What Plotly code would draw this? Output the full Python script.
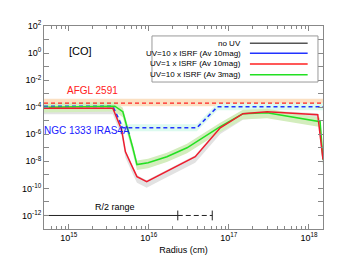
import numpy as np
import plotly.graph_objects as go

# ---- data ----
radius_red = [4.9e14, 3.55e15, 4.57e15, 5.1e15, 6.2e15, 7.1e15, 9.4e15, 1.38e16,
              2.14e16, 3.8e16, 7.8e16, 1.5e17, 3.0e17, 1.29e18, 1.5e18]
abund_red = [8.5e-5, 8.5e-5, 2.2e-6, 5.1e-8, 4.1e-9, 7.4e-10, 3.2e-10, 1.05e-9,
             4.1e-9, 2.2e-8, 3.0e-6, 3.3e-5, 4.6e-5, 2.8e-5, 1.35e-8]

radius_green = [4.9e14, 3.76e15, 4.73e15, 5.5e15, 6.3e15, 7.1e15, 9.8e15, 1.68e16,
                3.0e16, 7.8e16, 1.5e17, 3.0e17, 1.38e18, 1.5e18]
abund_green = [1.0e-4, 1.2e-4, 4.6e-5, 2.2e-6, 1.0e-7, 5.8e-9, 7.9e-9, 2.2e-8,
               1.0e-7, 3.6e-6, 3.3e-5, 3.9e-5, 8.5e-6, 1.35e-8]

radius_ngc = [4.9e14, 3.55e15, 4.73e15, 3.98e16, 7.2e16, 1.5e18]
abund_ngc = [1.15e-4, 1.15e-4, 3.0e-6, 3.0e-6, 1.07e-4, 1.07e-4]

radius_afgl = [4.9e14, 1.5e18]
abund_afgl = [2.0e-4, 2.0e-4]
afgl_hi = [4.2e-4, 4.2e-4]
afgl_lo = [1.2e-4, 1.2e-4]

r2_solid_x = [4.9e14, 2.3e16]
r2_dash_x = [2.3e16, 6.2e16]
r2_level = 1e-12

x_ticks = [1e15, 1e16, 1e17, 1e18]
x_ticktext = ["10<sup>15</sup>", "10<sup>16</sup>", "10<sup>17</sup>", "10<sup>18</sup>"]
y_exps = [2, 0, -2, -4, -6, -8, -10, -12]

legend_labels = ["no UV", "UV=10 x ISRF (Av 10mag)", "UV=1 x ISRF (Av 10mag)", "UV=10 x ISRF (Av 3mag)"]
legend_colors = ["#555555", "#2233ff", "#ff2020", "#22e022"]

FONT = "Liberation Sans, Arial, Helvetica, sans-serif"

fig = go.Figure()

def band(x, lo, hi, color):
    fig.add_trace(go.Scatter(x=list(x) + list(x)[::-1], y=list(hi) + list(lo)[::-1],
                             fill="toself", fillcolor=color, line=dict(width=0),
                             mode="lines", hoverinfo="skip", showlegend=False))

# bands
band(radius_afgl, afgl_lo, afgl_hi, "#fbe0c2")
band(radius_ngc, np.array(abund_ngc) / 1.8, np.array(abund_ngc) * 1.8, "#dcfaef")
band(radius_red, np.array(abund_red) * 10**-0.45, np.array(abund_red) * 10**0.1, "#e2e2e2")
band(radius_green, np.array(abund_green) * 10**-0.4, np.array(abund_green) * 10**0.3, "#d3edbd")

# lines
fig.add_trace(go.Scatter(x=radius_ngc, y=abund_ngc, mode="lines",
                         line=dict(color="#2233ff", width=1.6, dash="4px,3px"), showlegend=False))
fig.add_trace(go.Scatter(x=radius_afgl, y=abund_afgl, mode="lines",
                         line=dict(color="#ff2020", width=1.4, dash="4px,3px"), showlegend=False))
fig.add_trace(go.Scatter(x=radius_green, y=abund_green, mode="lines",
                         line=dict(color="#22e022", width=1.5), showlegend=False))
fig.add_trace(go.Scatter(x=radius_red, y=abund_red, mode="lines",
                         line=dict(color="#ee1c2e", width=1.5), showlegend=False))

# R/2 range
fig.add_trace(go.Scatter(x=r2_solid_x, y=[r2_level] * 2, mode="lines",
                         line=dict(color="#222222", width=1), showlegend=False))
fig.add_trace(go.Scatter(x=r2_dash_x, y=[r2_level] * 2, mode="lines+markers",
                         line=dict(color="#222222", width=1, dash="5px,3px"),
                         marker=dict(symbol="line-ns", size=7, line=dict(color="#222222", width=1)),
                         showlegend=False))

# minor ticks
x_minor = [m * 10**e for e in range(14, 19) for m in range(2, 10)]
x_minor = [v for v in x_minor if 4.9e14 <= v <= 1.5e18]
y_minor = [10.0**e for e in range(-13, 3) if e % 2 != 0]

axcol = "#888888"
fig.update_xaxes(type="log", range=[np.log10(4.9e14), np.log10(1.5e18)], automargin=False,
                 tickvals=x_ticks, ticktext=x_ticktext, ticks="inside", ticklen=5,
                 tickcolor=axcol, showline=True, linecolor=axcol, linewidth=1, mirror="ticks",
                 showgrid=False, zeroline=False,
                 minor=dict(tickvals=x_minor, ticks="inside", ticklen=3, tickcolor=axcol, showgrid=False),
                 tickfont=dict(size=9, color="black", family=FONT),
                 title=dict(text="Radius (cm)", font=dict(size=9, color="black", family=FONT), standoff=4))
fig.update_yaxes(type="log", range=[-13, 2], automargin=False,
                 tickvals=[10.0**e for e in y_exps],
                 ticktext=["10<sup>%d</sup>" % e for e in y_exps],
                 ticks="inside", ticklen=5, tickcolor=axcol, showline=True, linecolor=axcol,
                 linewidth=1, mirror="ticks", showgrid=False, zeroline=False,
                 minor=dict(tickvals=y_minor, ticks="inside", ticklen=5, tickcolor=axcol, showgrid=False),
                 tickfont=dict(size=9, color="black", family=FONT))

# manual legend (text right-aligned, line samples on the right)
shapes = [dict(type="rect", xref="paper", yref="paper", x0=0.387, x1=0.982, y0=0.724, y1=0.951,
               line=dict(color="#999999", width=1), fillcolor="white", layer="above")]
annotations = []
rows = [0.915, 0.866, 0.813, 0.760]
for lab, col, yy in zip(legend_labels, legend_colors, rows):
    shapes.append(dict(type="line", xref="paper", yref="paper", x0=0.738, x1=0.945, y0=yy, y1=yy,
                       line=dict(color=col, width=1.5), layer="above"))
    annotations.append(dict(xref="paper", yref="paper", x=0.712, y=yy, text=lab, showarrow=False,
                            xanchor="right", yanchor="middle", font=dict(size=8, color="black", family=FONT)))

# text labels placed in data coordinates (log10 values for log axes)
annotations += [
    dict(xref="x", yref="y", x=15.14, y=0.16, text="[CO]", showarrow=False,
         font=dict(size=11, color="black", family=FONT)),
    dict(xref="x", yref="y", x=15.30, y=-2.78, text="AFGL 2591", showarrow=False,
         font=dict(size=10, color="#ff2020", family=FONT)),
    dict(xref="x", yref="y", x=15.225, y=-5.72, text="NGC 1333 IRAS4A", showarrow=False,
         font=dict(size=10, color="#2020ff", family=FONT)),
    dict(xref="x", yref="y", x=15.575, y=-11.4, text="R/2 range", showarrow=False,
         font=dict(size=9, color="black", family=FONT)),
]

# page body has an 8px default margin, so the figure is drawn 8px smaller with margins shifted
fig.update_layout(width=342, height=255, margin=dict(l=36, r=27, t=18, b=34, autoexpand=False),
                  plot_bgcolor="white", paper_bgcolor="white", showlegend=False,
                  shapes=shapes, annotations=annotations, font=dict(family=FONT))

fig.write_html("out.html")
